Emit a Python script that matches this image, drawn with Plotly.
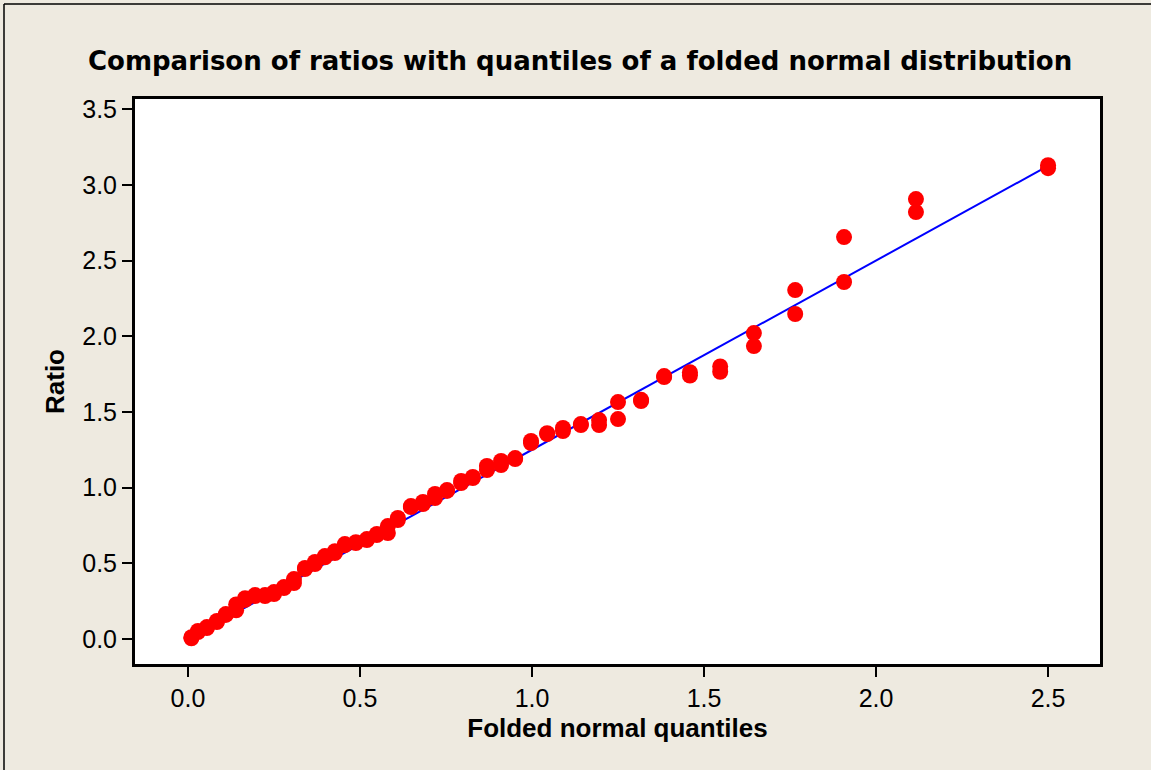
import plotly.graph_objects as go

# Folded normal quantiles (each level carries two observed ratios)
folded_q = [0.010, 0.029, 0.055, 0.084, 0.110, 0.140, 0.166, 0.195, 0.224, 0.250,
            0.279, 0.308, 0.340, 0.369, 0.398, 0.427, 0.456, 0.488, 0.520, 0.549,
            0.581, 0.610, 0.648, 0.683, 0.718, 0.753, 0.794, 0.828, 0.869, 0.910,
            0.951, 0.997, 1.044, 1.090, 1.142, 1.195, 1.250, 1.317, 1.384, 1.459,
            1.547, 1.645, 1.765, 1.907, 2.116, 2.500]

ratio_a = [0.005, 0.046, 0.073, 0.112, 0.159, 0.190, 0.258, 0.284, 0.284, 0.297,
           0.337, 0.370, 0.462, 0.495, 0.540, 0.568, 0.620, 0.634, 0.654, 0.687,
           0.700, 0.786, 0.872, 0.892, 0.931, 0.978, 1.030, 1.063, 1.116, 1.149,
           1.189, 1.295, 1.354, 1.374, 1.413, 1.413, 1.453, 1.572, 1.730, 1.740,
           1.765, 1.935, 2.147, 2.358, 2.820, 3.110]

ratio_b = [0.012, 0.053, 0.079, 0.119, 0.165, 0.228, 0.270, 0.290, 0.290, 0.310,
           0.343, 0.396, 0.469, 0.509, 0.548, 0.580, 0.627, 0.640, 0.660, 0.694,
           0.746, 0.800, 0.878, 0.905, 0.958, 0.984, 1.044, 1.070, 1.143, 1.176,
           1.195, 1.308, 1.360, 1.394, 1.420, 1.446, 1.565, 1.580, 1.737, 1.762,
           1.800, 2.021, 2.305, 2.655, 2.906, 3.130]

# Reference line of the fitted folded normal
ref_x = [0.0, 2.5]
ref_y = [0.0, 3.125]

tick_vals_x = [0.0, 0.5, 1.0, 1.5, 2.0, 2.5]
tick_vals_y = [0.0, 0.5, 1.0, 1.5, 2.0, 2.5, 3.0, 3.5]

BG = "#EEEAE0"
FONT = "Liberation Sans, Arial, sans-serif"
TITLE_FONT = "DejaVu Sans, Verdana, sans-serif"

fig = go.Figure()

fig.add_trace(go.Scatter(
    x=ref_x, y=ref_y, mode="lines",
    line=dict(color="#0000FF", width=2),
    hoverinfo="skip", showlegend=False,
))

fig.add_trace(go.Scatter(
    x=folded_q + folded_q, y=ratio_a + ratio_b, mode="markers",
    marker=dict(color="#FF0000", size=16, line=dict(width=0)),
    showlegend=False,
))

# outer frame of the graph window (left and top edges visible)
L, R, T, B = 135, 51, 99, 106
W, H = 1151, 770
pw, ph = W - L - R, H - T - B
fx = (4 - L) / pw
fy = (H - B - 4) / ph
fig.add_shape(type="line", xref="paper", yref="paper",
              x0=fx, x1=fx, y0=fy, y1=-1, line=dict(color="#000000", width=1.5))
fig.add_shape(type="line", xref="paper", yref="paper",
              x0=fx, x1=2, y0=fy, y1=fy, line=dict(color="#000000", width=1.5))

axis_common = dict(
    showgrid=False, zeroline=False,
    showline=True, linecolor="#000000", linewidth=3, mirror=True,
    ticks="outside", ticklen=10, tickwidth=2, tickcolor="#000000",
    tickformat=".1f",
    tickfont=dict(family=FONT, size=25, color="#000000"),
)

fig.update_layout(
    width=W, height=H,
    margin=dict(l=L, r=R, t=T, b=B),
    paper_bgcolor=BG, plot_bgcolor="#FFFFFF",
    title=dict(
        text="<b>Comparison of ratios with quantiles of a folded normal distribution</b>",
        x=0.504, xanchor="center", xref="container",
        y=1 - 61 / H, yanchor="middle", yref="container",
        font=dict(family=TITLE_FONT, size=26, color="#000000"),
    ),
    xaxis=dict(
        range=[-0.154, 2.651], tickvals=tick_vals_x,
        title=dict(text="<b>Folded normal quantiles</b>", standoff=8,
                   font=dict(family=FONT, size=26, color="#000000")),
        **axis_common,
    ),
    yaxis=dict(
        range=[-0.165, 3.567], tickvals=tick_vals_y,
        title=dict(text="<b>Ratio</b>", standoff=11,
                   font=dict(family=FONT, size=26, color="#000000")),
        **axis_common,
    ),
)

fig.write_html("out.html")
